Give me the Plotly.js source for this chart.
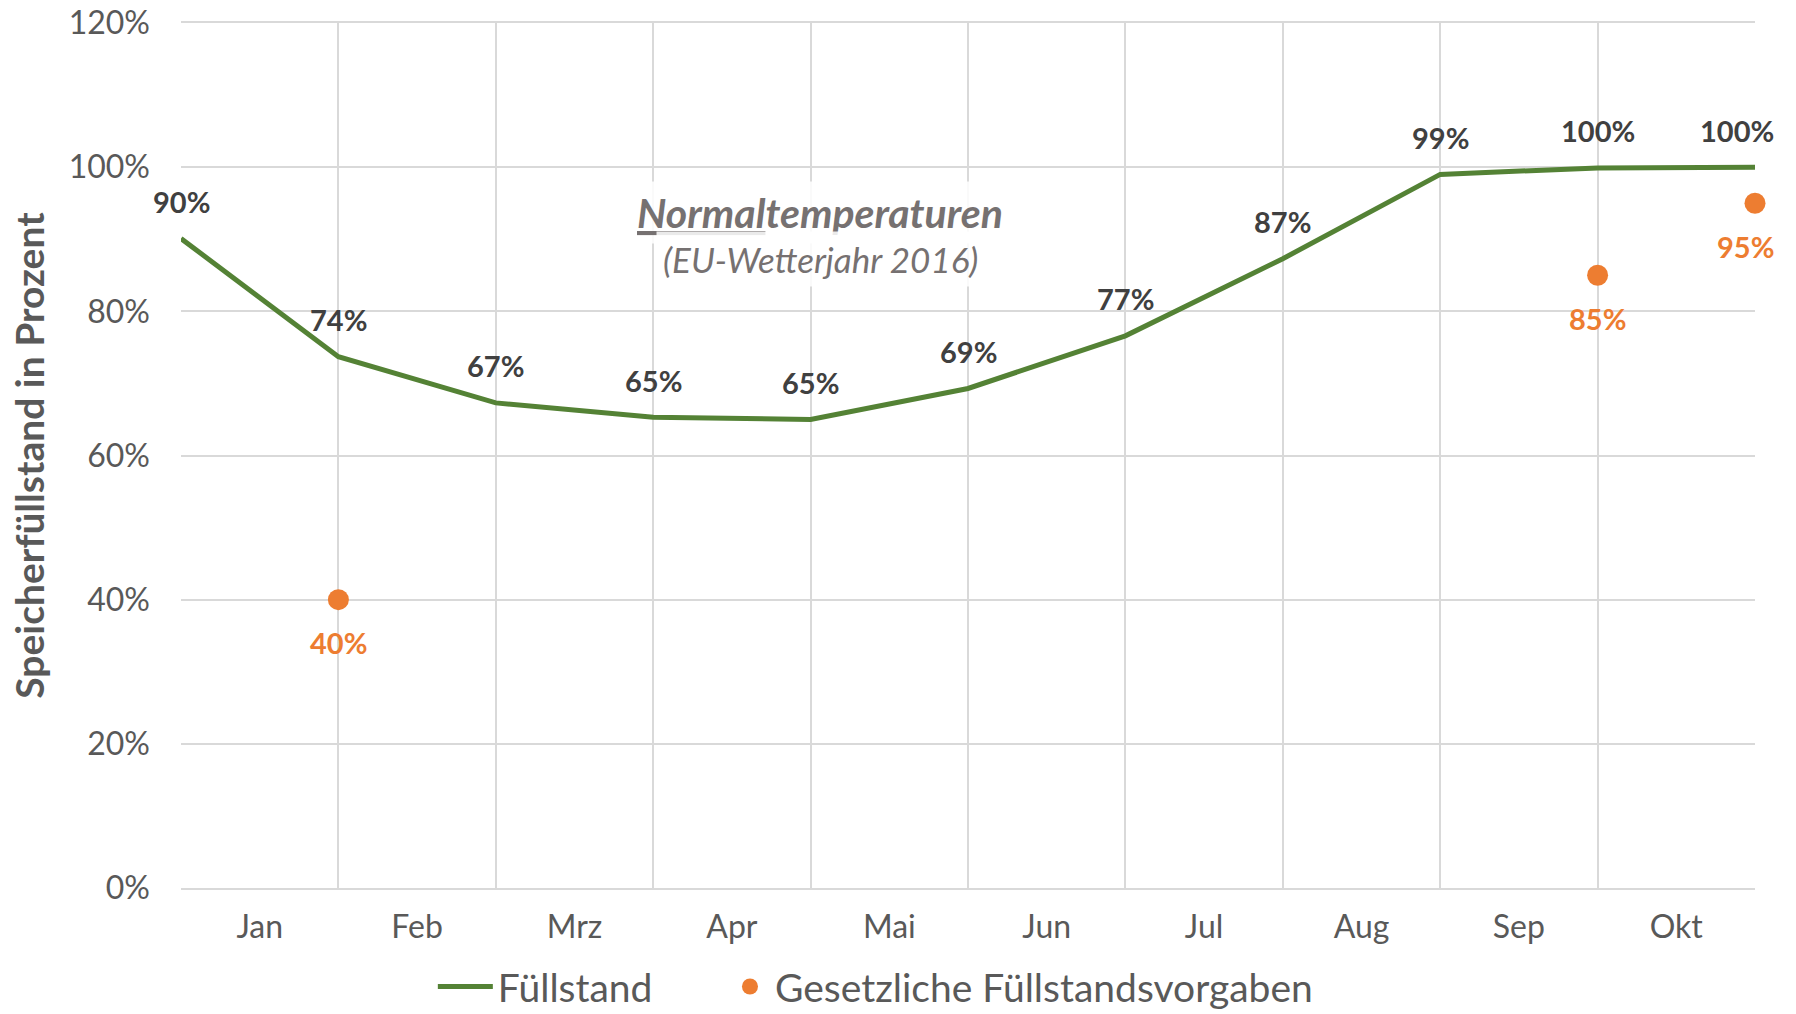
<!DOCTYPE html>
<html><head><meta charset="utf-8">
<script src="https://cdn.plot.ly/plotly-3.0.1.min.js"></script>
<style>html,body{margin:0;padding:0;background:#fff}</style>
</head><body><div id="chart" style="width:1796px;height:1014px"></div>
<script>
// ---- data ----
const points = [0, 1, 2, 3, 4, 5, 6, 7, 8, 9, 10];
const monthLabels = ['Jan', 'Feb', 'Mrz', 'Apr', 'Mai', 'Jun', 'Jul', 'Aug', 'Sep', 'Okt'];
const monthPos = [0.5, 1.5, 2.5, 3.5, 4.5, 5.5, 6.5, 7.5, 8.5, 9.5];
const fuellstand = [90.1, 73.7, 67.3, 65.3, 65.0, 69.3, 76.6, 87.3, 99.0, 99.9, 100.0];
const vorgabenX = [1, 9, 10];
const vorgaben = [40, 85, 95];
const yTicks = [0, 20, 40, 60, 80, 100, 120];
const yTickText = ['0%', '20%', '40%', '60%', '80%', '100%', '120%'];

const FONT = 'Lato, "Noto Sans", sans-serif';
const GREEN = '#548235';
const ORANGE = '#ED7D31';
const GRID = '#d9d9d9';
const TXT = '#595959';
const XMAX = points[points.length - 1];

const traces = [
  {
    x: points, y: fuellstand, type: 'scatter', mode: 'lines',
    name: 'Füllstand', line: {color: GREEN, width: 5}, cliponaxis: false,
    legend: 'legend'
  },
  {
    x: vorgabenX, y: vorgaben, type: 'scatter', mode: 'markers',
    name: 'Gesetzliche Füllstandsvorgaben', marker: {color: ORANGE, size: 21}, cliponaxis: false,
    legend: 'legend2'
  },
  {
    x: monthPos, y: monthPos.map(() => null), xaxis: 'x2', type: 'scatter',
    mode: 'markers', showlegend: false, hoverinfo: 'skip'
  }
];

// data labels; labels at the right edge are kept inside the chart, as Excel does
function labelPos(x) {
  return x === XMAX ? {xanchor: 'right', xshift: 21} : {xanchor: 'center', xshift: 0};
}
const annotations = [];
fuellstand.forEach((v, i) => {
  annotations.push(Object.assign({
    x: points[i], y: v, xref: 'x', yref: 'y', text: Math.round(v) + '%',
    showarrow: false, yshift: 37,
    font: {family: FONT, size: 29, color: '#404040', weight: 700}
  }, labelPos(points[i])));
});
vorgaben.forEach((v, i) => {
  annotations.push(Object.assign({
    x: vorgabenX[i], y: v, xref: 'x', yref: 'y', text: v + '%',
    showarrow: false, yshift: -43,
    font: {family: FONT, size: 29, color: ORANGE, weight: 700}
  }, labelPos(vorgabenX[i])));
});
annotations.push({
  xref: 'paper', yref: 'paper', x: 0.406, y: 0.7813, xanchor: 'center', yanchor: 'middle',
  showarrow: false,
  text: '<b><i><u>Normal</u>temperaturen</i></b>',
  font: {family: FONT, size: 41, color: '#767171'},
  bgcolor: 'rgba(255,255,255,0.85)', borderpad: 6
});
annotations.push({
  xref: 'paper', yref: 'paper', x: 0.406, y: 0.7269, xanchor: 'center', yanchor: 'middle',
  showarrow: false,
  text: '<i>(EU-Wetterjahr 2016)</i>',
  font: {family: FONT, size: 35, color: '#767171'},
  bgcolor: 'rgba(255,255,255,0.85)', borderpad: 6
});

const legendBase = {
  orientation: 'h', xref: 'paper', xanchor: 'left',
  yref: 'container', y: 0.027, yanchor: 'middle',
  font: {family: FONT, size: 39, color: TXT}, bgcolor: 'rgba(0,0,0,0)'
};

const layout = {
  width: 1796, height: 1014,
  margin: {l: 181, r: 41, t: 23, b: 126},
  paper_bgcolor: '#fff', plot_bgcolor: '#fff',
  font: {family: FONT, color: TXT},
  showlegend: true,
  legend: Object.assign({}, legendBase, {x: 0.160, itemwidth: 55}),
  legend2: Object.assign({}, legendBase, {x: 0.3456, itemwidth: 40}),
  xaxis: {
    range: [0, 10], tickvals: points, showticklabels: false,
    showgrid: true, gridcolor: GRID, gridwidth: 2,
    showline: true, linecolor: GRID, linewidth: 2, mirror: true,
    zeroline: false, ticks: '', fixedrange: true
  },
  xaxis2: {
    overlaying: 'x', matches: 'x', side: 'bottom', range: [0, 10],
    tickvals: monthPos, ticktext: monthLabels, showgrid: false, zeroline: false,
    showline: false, ticks: '', ticklabelstandoff: 17,
    tickfont: {family: FONT, size: 32, color: TXT}
  },
  yaxis: {
    range: [0, 120], tickvals: yTicks, ticktext: yTickText,
    showgrid: true, gridcolor: GRID, gridwidth: 2, zeroline: false,
    showline: false, ticks: '', ticklabelstandoff: 30,
    tickfont: {family: FONT, size: 32, color: TXT},
    title: {text: 'Speicherfüllstand in Prozent', standoff: 12,
      font: {family: FONT, size: 39, color: TXT, weight: 700}}
  },
  annotations: annotations
};

Plotly.newPlot('chart', traces, layout, {displayModeBar: false, staticPlot: true});
</script>
</body></html>
